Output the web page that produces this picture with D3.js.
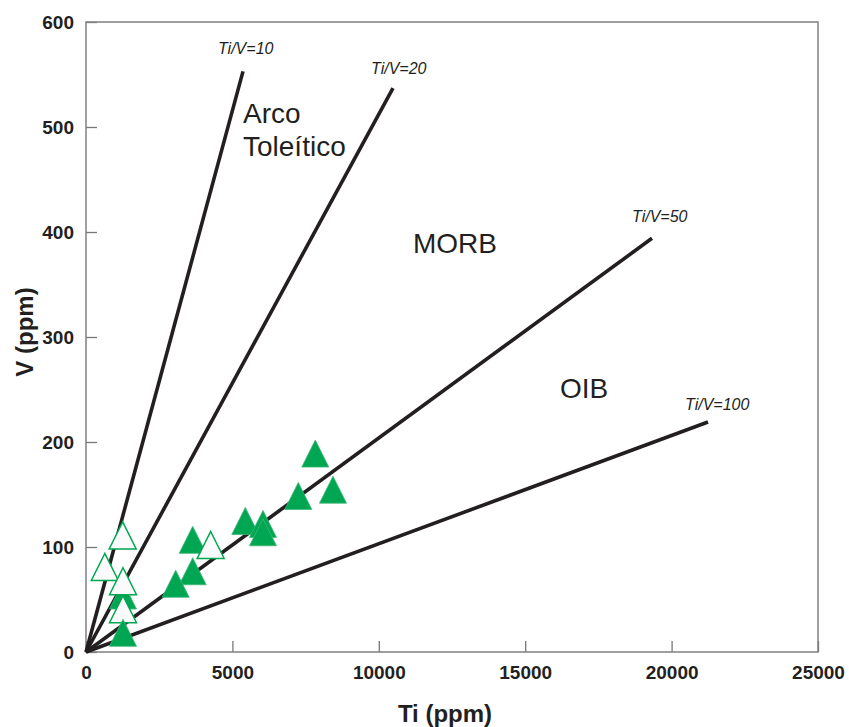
<!DOCTYPE html>
<html>
<head>
<meta charset="utf-8">
<script src="https://cdn.jsdelivr.net/npm/d3@7"></script>
<style>
  html, body { margin: 0; padding: 0; background: #ffffff; }
  svg { display: block; }
  text { font-family: "Liberation Sans", Arial, Helvetica, sans-serif; }
</style>
</head>
<body>
<svg id="chart" width="849" height="727"></svg>
<script>
// ---- data ----
const xTicks = [0, 5000, 10000, 15000, 20000, 25000];
const yTicks = [0, 100, 200, 300, 400, 500, 600];

// reference lines (Ti/V ratios), drawn from origin to end point
const lineLabels = ["Ti/V=10", "Ti/V=20", "Ti/V=50", "Ti/V=100"];
const lineEndTi = [5362, 10485, 19330, 21243];
const lineEndV  = [553, 537, 394, 219];
const lineLabelTi = [4508, 9734, 18648, 20458];
const lineLabelV  = [569.5, 550.5, 409.5, 230.5];

// field names
const fieldLabels = ["Arco", "Toleítico", "MORB", "OIB"];
const fieldTi = [5362, 5362, 11168, 16189];
const fieldV  = [503.8, 472.4, 380, 241.9];

// samples in drawing order (kind: "filled" / "open")
const sampleTi   = [1264, 3644, 7831, 8436, 7251, 5441, 6045, 6045, 3644, 3063, 1253, 643, 1264, 1264, 4258, 1264];
const sampleV    = [53.8, 106.8, 189, 154.6, 148.6, 124.8, 122, 114, 76.9, 65, 111, 81, 67.4, 40.8, 101.9, 18.3];
const sampleKind = ["filled","filled","filled","filled","filled","filled","filled","filled","filled","filled",
                    "open","open","open","open","open","filled"];

// ---- layout ----
const svg = d3.select("#chart");
const mLeft = 86, mRight = 818, mTop = 22, mBottom = 652;
const x = d3.scaleLinear().domain([0, 25000]).range([mLeft, mRight]);
const y = d3.scaleLinear().domain([0, 600]).range([mBottom, mTop]);
const green = "#00a651";
const ink = "#231f20";

// axes
const xAxis = svg.append("g").attr("transform", `translate(0,${mBottom})`)
  .call(d3.axisBottom(x).tickValues(xTicks).tickFormat(d3.format("d"))
        .tickSizeInner(-11).tickSizeOuter(0).tickPadding(14));
const yAxis = svg.append("g").attr("transform", `translate(${mLeft},0)`)
  .call(d3.axisLeft(y).tickValues(yTicks).tickFormat(d3.format("d"))
        .tickSizeInner(-11).tickSizeOuter(0).tickPadding(12));
[xAxis, yAxis].forEach(g => {
  g.select(".domain").remove();
  g.selectAll(".tick line").attr("stroke", "#777").attr("stroke-width", 1.3);
  g.selectAll(".tick text").attr("fill", ink).style("font-size", "19px").style("font-weight", "bold")
    .style("font-family", "'Liberation Sans', Arial, sans-serif");
});

// frame
svg.append("rect").attr("x", mLeft).attr("y", mTop)
  .attr("width", mRight - mLeft).attr("height", mBottom - mTop)
  .attr("fill", "none").attr("stroke", "#808080").attr("stroke-width", 1.5);

// ratio lines
svg.append("g").selectAll("line").data(lineEndTi).join("line")
  .attr("x1", x(0)).attr("y1", y(0))
  .attr("x2", (d) => x(d)).attr("y2", (d, i) => y(lineEndV[i]))
  .attr("stroke", ink).attr("stroke-width", 3.6).attr("stroke-linecap", "butt");

svg.append("g").selectAll("text").data(lineLabels).join("text")
  .attr("x", (d, i) => x(lineLabelTi[i])).attr("y", (d, i) => y(lineLabelV[i]))
  .attr("fill", ink).style("font-size", "16px").style("font-style", "italic")
  .text(d => d);

// field labels
svg.append("g").selectAll("text").data(fieldLabels).join("text")
  .attr("x", (d, i) => x(fieldTi[i])).attr("y", (d, i) => y(fieldV[i]))
  .attr("fill", ink).style("font-size", "28px")
  .text(d => d);

// triangles
const triW = 27, triH = 27;
function triPath(cx, cy) {
  const p = d3.path();
  p.moveTo(cx, cy - triH / 2);
  p.lineTo(cx + triW / 2, cy + triH / 2);
  p.lineTo(cx - triW / 2, cy + triH / 2);
  p.closePath();
  return p.toString();
}
svg.append("g").selectAll("path").data(sampleTi).join("path")
  .attr("d", (d, i) => triPath(x(d), y(sampleV[i])))
  .attr("fill", (d, i) => sampleKind[i] === "filled" ? green : "#fbfbfb")
  .attr("stroke", (d, i) => sampleKind[i] === "filled" ? "#3cb878" : green)
  .attr("stroke-width", (d, i) => sampleKind[i] === "filled" ? 0.8 : 1.5)
  .attr("stroke-linejoin", "miter");

// axis titles
svg.append("text").attr("x", 445).attr("y", 722).attr("text-anchor", "middle")
  .attr("fill", ink).style("font-size", "24px").style("font-weight", "bold").text("Ti (ppm)");
svg.append("text").attr("transform", "translate(33,332) rotate(-90)").attr("text-anchor", "middle")
  .attr("fill", ink).style("font-size", "24px").style("font-weight", "bold").text("V (ppm)");
</script>
</body>
</html>
